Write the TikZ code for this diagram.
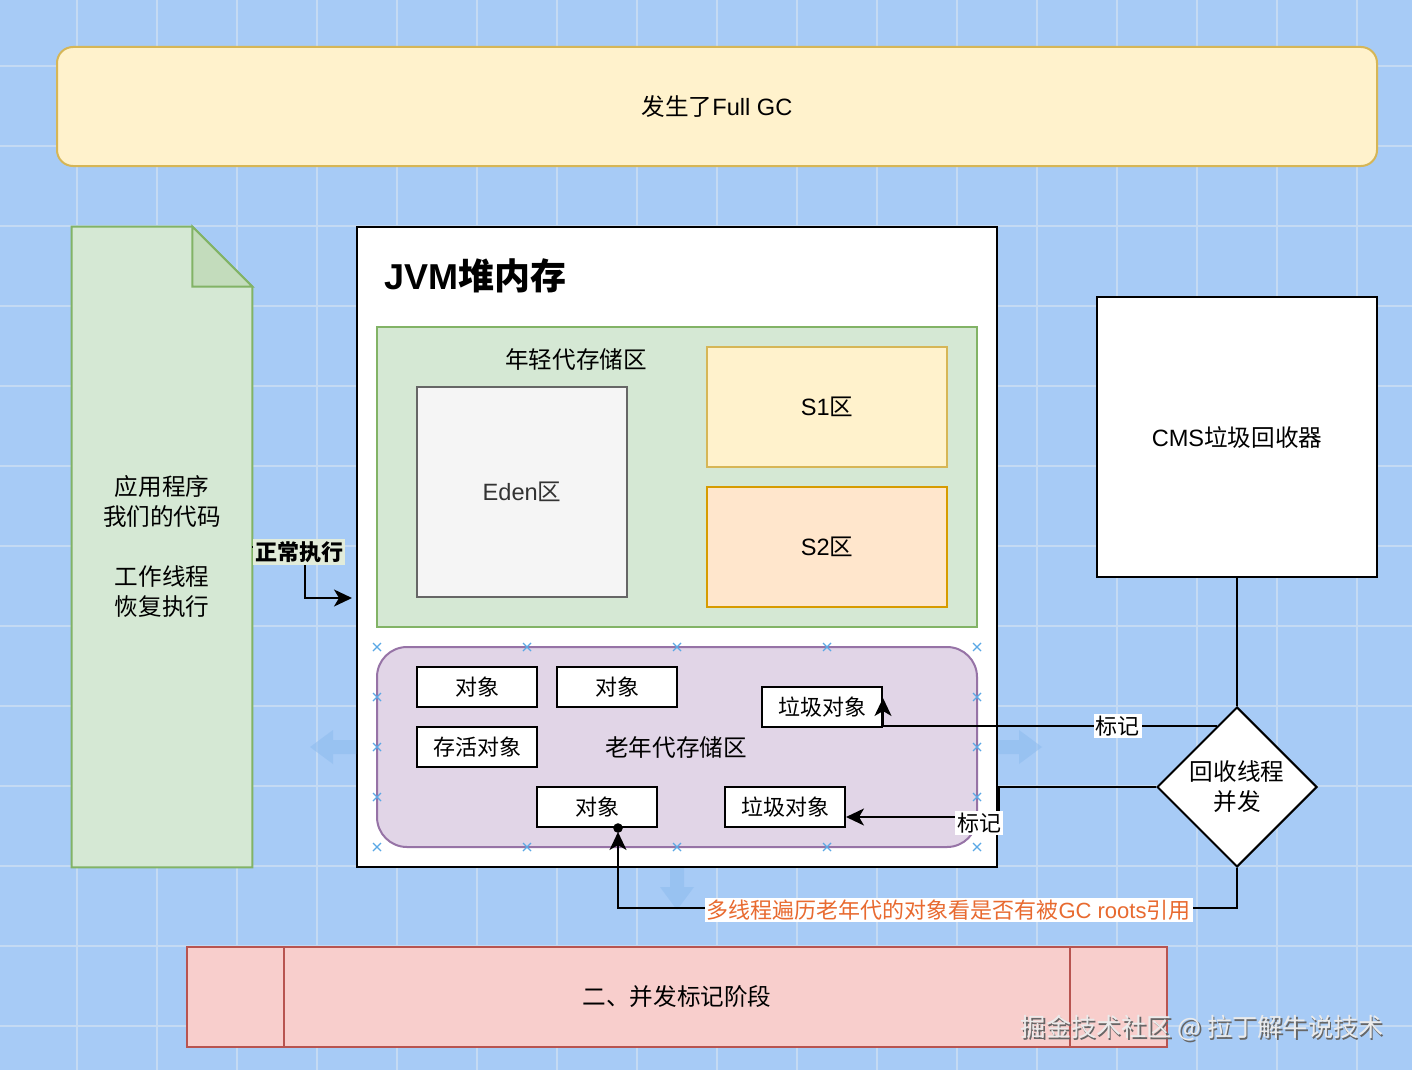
\documentclass[tikz,border=0pt]{standalone}
\usepackage{fontspec}
\setmainfont{Noto Sans CJK SC}
\newfontfamily\lat{Liberation Sans}
\usetikzlibrary{shapes.geometric,arrows.meta,calc}
\definecolor{bgblue}{HTML}{A7CBF6}
\definecolor{gridc}{HTML}{C4DAF3}
\definecolor{yfill}{HTML}{FFF2CC}
\definecolor{ystroke}{HTML}{D6B656}
\definecolor{gfill}{HTML}{D5E8D4}
\definecolor{gstroke}{HTML}{82B366}
\definecolor{efill}{HTML}{F5F5F5}
\definecolor{estroke}{HTML}{666666}
\definecolor{ofill}{HTML}{FFE6CC}
\definecolor{ostroke}{HTML}{D79B00}
\definecolor{pfill}{HTML}{E1D5E7}
\definecolor{pstroke}{HTML}{9673A6}
\definecolor{rfill}{HTML}{F8CECC}
\definecolor{rstroke}{HTML}{B85450}
\definecolor{orangetxt}{HTML}{E86A30}
\definecolor{crossc}{HTML}{5AA8E6}
\definecolor{hintc}{HTML}{8DBBEE}
\definecolor{lblgreen}{HTML}{E2ECDA}
\tikzset{
  base/.style={inner sep=0pt, font=\fontsize{11.8}{15}\selectfont, align=center},
  shapebox/.style={base, draw, line width=1pt},
  objbox/.style={shapebox, fill=white, draw=black, minimum width=60pt, minimum height=20pt, font=\fontsize{11}{13}\selectfont},
  edge/.style={line width=1pt, draw=black},
  tip/.style={-{Stealth[length=9pt,width=8.5pt,inset=2.5pt]}},
  lbl/.style={fill=white, inner sep=1pt, font=\fontsize{11}{13}\selectfont},
  crossm/.style={draw=crossc, line width=0.6pt},
  hint/.style={fill=hintc, opacity=0.55, draw=none},
}
\begin{document}
\begin{tikzpicture}[x=0.5pt,y=-0.5pt]
\useasboundingbox (0,0) rectangle (1412,1070);
\fill[bgblue] (0,0) rectangle (1412,1070);
\foreach \gx in {77,157,...,1397} \draw[gridc, line width=0.6pt] (\gx,0) -- (\gx,1070);
\foreach \gy in {66,146,...,1066} \draw[gridc, line width=0.6pt] (0,\gy) -- (1412,\gy);

% top banner
\node[shapebox, fill=yfill, draw=ystroke, rounded corners=8pt, minimum width=660pt, minimum height=59.5pt] (top) at (717,106.5) {发生了{\lat Full GC}};

% document shape
\node[minimum width=90pt, minimum height=320pt, inner sep=0pt] (doc) at (162,547) {};
\draw[fill=gfill, draw=gstroke, line width=1pt] (doc.south west) -- (doc.north west) -- ([xshift=-30pt]doc.north east) -- ([yshift=-30pt]doc.north east) -- (doc.south east) -- cycle;
\draw[fill=gstroke!22!gfill, draw=gstroke, line width=1pt] ([xshift=-30pt]doc.north east) -- ([xshift=-30pt,yshift=-30pt]doc.north east) -- ([yshift=-30pt]doc.north east) -- cycle;
\node[base] (doctext) at (162,546) {应用程序\\我们的代码\\[\baselineskip]工作线程\\恢复执行};

% JVM heap
\node[shapebox, fill=white, draw=black, minimum width=320pt, minimum height=320pt] (jvm) at (677,547) {};
\node[base, anchor=west, font=\fontsize{18}{20}\selectfont\bfseries] (title) at (384,276) {{\lat\bfseries JVM}堆内存};

% young generation
\node[shapebox, fill=gfill, draw=gstroke, minimum width=300pt, minimum height=150pt] (young) at (677,477) {};
\node[base] (younglbl) at (576,360) {年轻代存储区};
\node[shapebox, fill=efill, draw=estroke, text=black!80, minimum width=105pt, minimum height=105pt] (eden) at (522,492) {{\lat Eden}区};
\node[shapebox, fill=yfill, draw=ystroke, minimum width=120pt, minimum height=60pt] (s1) at (827,407) {{\lat S1}区};
\node[shapebox, fill=ofill, draw=ostroke, minimum width=120pt, minimum height=60pt] (s2) at (827,547) {{\lat S2}区};

% old generation
\node[shapebox, fill=pfill, draw=pstroke, rounded corners=15pt, minimum width=300pt, minimum height=100pt] (old) at (677,747) {};
\node[base] (oldlbl) at (676,747) {老年代存储区};
\node[objbox] (o1) at (477,687) {对象};
\node[objbox] (o2) at (617,687) {对象};
\node[objbox] (alive) at (477,747) {存活对象};
\node[objbox] (gb1) at (822,707) {垃圾对象};
\node[objbox] (o3) at (597,807) {对象};
\node[objbox] (gb2) at (785,807) {垃圾对象};

% selection crosses
\foreach \cx/\cy in {377/647,527/647,677/647,827/647,977/647,377/847,527/847,677/847,827/847,977/847,377/697,377/747,377/797,977/697,977/747,977/797}
  \draw[crossm] (\cx-4,\cy-4) -- (\cx+4,\cy+4) (\cx-4,\cy+4) -- (\cx+4,\cy-4);

% faint hint arrows
\fill[hint] (310,747) -- (333,730) -- (333,740) -- (356,740) -- (356,754) -- (333,754) -- (333,764) -- cycle;
\fill[hint] (1042,747) -- (1019,730) -- (1019,740) -- (998,740) -- (998,754) -- (1019,754) -- (1019,764) -- cycle;
\fill[hint] (677,910) -- (660,887) -- (670,887) -- (670,868) -- (684,868) -- (684,887) -- (694,887) -- cycle;

% CMS collector
\node[shapebox, fill=white, draw=black, minimum width=140pt, minimum height=140pt] (cms) at (1237,437) {{\lat CMS}垃圾回收器};
\node[shapebox, diamond, fill=white, draw=black, minimum width=80pt, minimum height=80pt] (dia) at (1237,787) {回收线程\\并发};

% bottom phase bar
\node[shapebox, fill=rfill, draw=rstroke, minimum width=490pt, minimum height=50pt] (phase) at (677,997) {二、并发标记阶段};
\draw[rstroke, line width=1pt] ([xshift=49pt]phase.north west) -- ([xshift=49pt]phase.south west)
  ([xshift=-49pt]phase.north east) -- ([xshift=-49pt]phase.south east);

% connectors
\draw[edge] (cms.south) -- (dia.north);
\coordinate (m1) at ($(dia.north)!0.25!(dia.west)$);
\draw[edge, tip] (m1) -- node[lbl, pos=0.296] {标记} (m1 -| gb1.east) -- ($(gb1.east)+(0,-9)$);
\draw[edge, tip] (dia.west) -- ++(-157,0) -- ++(0,30) -- node[lbl, pos=0.13, yshift=-3pt] {标记} ($(gb2.east)+(0,10)$);
\draw[edge, tip] (dia.south) -- ++(0,40) -| node[lbl, pos=0.233, text=orangetxt, yshift=-1pt] {多线程遍历老年代的对象看是否有被{\lat GC roots}引用} ($(o3.south)+(21,4)$);
\fill ($(o3.south)+(21,0)$) circle (2.4pt);
\draw[edge, tip] (doc.east) -- ++(53,0) |- ($(jvm.west)+(-4,51)$);
\node[lbl, fill=lblgreen, font=\fontsize{11}{13}\selectfont\bfseries] (runlbl) at ($(doc.east)+(47,5)$) {正常执行};

% watermark
\node[base, anchor=east, text=black!60, font=\fontsize{12.6}{16}\selectfont] at (1385.5,1029.5) {掘金技术社区 @ 拉丁解牛说技术};
\node[base, anchor=east, text=white!92!black, font=\fontsize{12.6}{16}\selectfont] (wm) at (1384,1028) {掘金技术社区 @ 拉丁解牛说技术};
\end{tikzpicture}
\end{document}
